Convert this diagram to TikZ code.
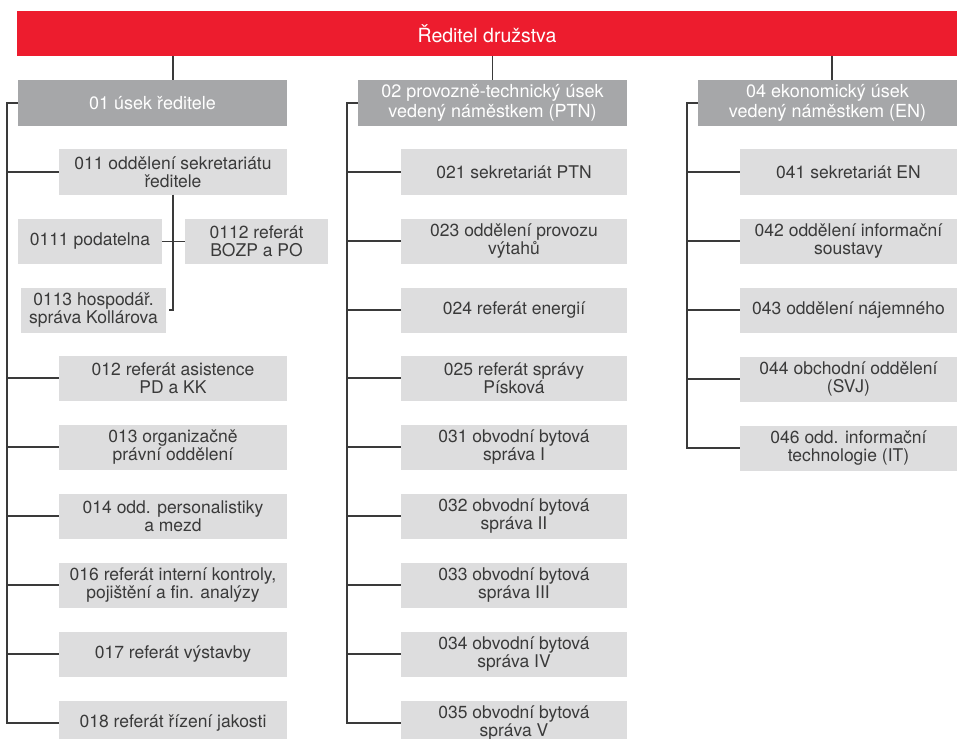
\documentclass[tikz,border=0pt]{standalone}
\usepackage{fontspec}
\setmainfont{TeX Gyre Heros}
\definecolor{drred}{HTML}{ED1C2E}
\definecolor{hdgray}{HTML}{A6A7A9}
\definecolor{ungray}{HTML}{DDDDDE}
\definecolor{lngray}{HTML}{3A3A3A}
\tikzset{
dirbox/.style={fill=drred,text=white,minimum width=940pt,minimum height=45pt,inner sep=0pt,font=\fontsize{19.5}{22}\selectfont},
headbox/.style={fill=hdgray,text=white,minimum height=46pt,inner sep=0pt,align=center,font=\fontsize{18}{19.5}\selectfont},
unitbox/.style={fill=ungray,text=lngray,minimum height=45pt,inner sep=0pt,align=center,font=\fontsize{17.5}{18.5}\selectfont},
link/.style={draw=lngray,line width=1.2pt}
}
\begin{document}
\begin{tikzpicture}[x=1pt,y=-1pt]
\useasboundingbox (0,0) rectangle (957,738);
\clip (0,0) rectangle (957,738);
% director and sections
\node[dirbox] (dir) at (487,33.5) {Ředitel družstva};
\node[headbox,minimum width=269pt] (h01) at (152.5,103) {01 úsek ředitele};
\node[headbox,minimum width=269pt] (h02) at (492.5,103) {02 provozně-technický úsek\\vedený náměstkem (PTN)};
\node[headbox,minimum width=259pt] (h04) at (827.5,103) {04 ekonomický úsek\\vedený náměstkem (EN)};
% units
\foreach \nm/\y/\txt in {011/172/{011 oddělení sekretariátu\\ředitele},012/378/{012 referát asistence\\PD a KK},
013/447/{013 organizačně\\právní oddělení},014/516/{014 odd. personalistiky\\a mezd},
016/585/{016 referát interní kontroly,\\pojištění a fin. analýzy},017/654/{017 referát výstavby},
018/723/{018 referát řízení jakosti}}
\node[unitbox,minimum width=228pt] (u\nm) at (173,\y) {\txt};
\foreach \nm/\y/\txt in {021/172/{021 sekretariát PTN},023/241/{023 oddělení provozu\\výtahů},
024/310/{024 referát energií},025/378/{025 referát správy\\Písková},031/447/{031 obvodní bytová\\správa I},
032/516/{032 obvodní bytová\\správa II},033/585/{033 obvodní bytová\\správa III},
034/654/{034 obvodní bytová\\správa IV},035/723/{035 obvodní bytová\\správa V}}
\node[unitbox,minimum width=226pt] (u\nm) at (514,\y) {\txt};
\foreach \nm/\y/\txt in {041/172/{041 sekretariát EN},042/241/{042 oddělení informační\\soustavy},
043/310/{043 oddělení nájemného},044/379/{044 obchodní oddělení\\(SVJ)},
046/448/{046 odd. informační\\technologie (IT)}}
\node[unitbox,minimum width=217pt] (u\nm) at (848.5,\y) {\txt};
\node[unitbox,minimum width=144pt] (u0111) at (90,241.5) {0111 podatelna};
\node[unitbox,minimum width=143pt] (u0112) at (256.5,241.5) {0112 referát\\BOZP a PO};
\node[unitbox,minimum width=145pt] (u0113) at (93.5,310) {0113 hospodář.\\správa Kollárova};
% links
\draw[link] (dir.south -| u011) -- (u011 |- h01.north);
\draw[link] (dir.south -| h02) -- (h02.north);
\draw[link] (dir.south -| 832,0) -- (832,80);
\coordinate (bus1) at (7,103);
\coordinate (bus2) at (347,103);
\coordinate (bus4) at (687,103);
\draw[link] (h01.west) -- (bus1) |- (u018.west);
\draw[link] (h02.west) -- (bus2) |- (u035.west);
\draw[link] (h04.west) -- (bus4) |- (u046.west);
\foreach \nm in {011,012,013,014,016,017}
\draw[link] (bus1 |- u\nm.west) -- (u\nm.west);
\foreach \nm in {021,023,024,025,031,032,033,034}
\draw[link] (bus2 |- u\nm.west) -- (u\nm.west);
\foreach \nm in {041,042,043,044}
\draw[link] (bus4 |- u\nm.west) -- (u\nm.west);
\draw[link] (u011.south) |- ([xshift=3pt]u0113.east);
\draw[link] (u0111.east) -- (u0112.west);
\end{tikzpicture}
\end{document}
